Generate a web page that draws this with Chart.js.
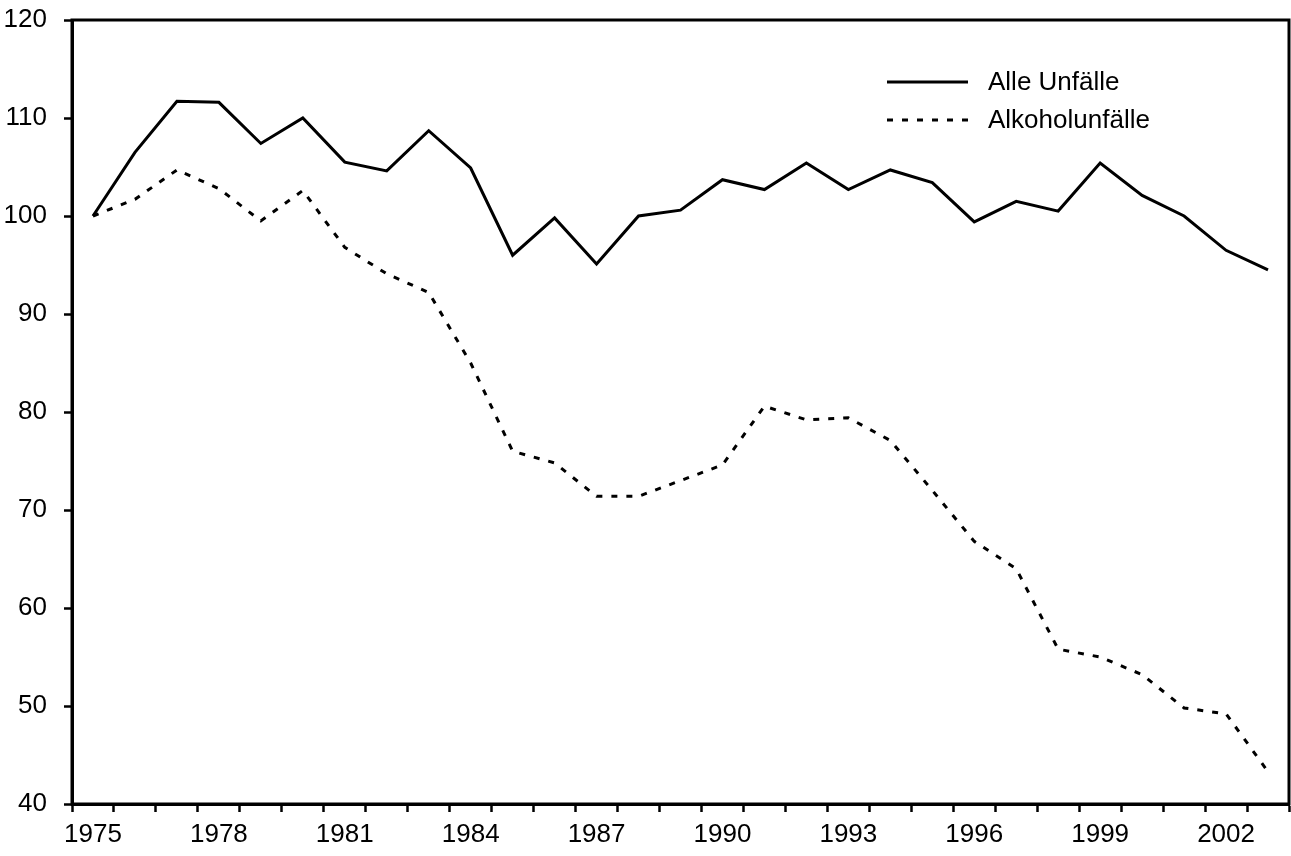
<!DOCTYPE html>
<html>
<head>
<meta charset="utf-8">
<script src="https://cdn.jsdelivr.net/npm/chart.js@4.4.0/dist/chart.umd.min.js"></script>
<style>
  body { margin: 0; background: #fff; }
  #wrap { width: 1291px; height: 856px; }
</style>
</head>
<body>
<div id="wrap"><canvas id="unfaelle_chart" width="1291" height="856"></canvas></div>
<script>
// Index 1975 = 100
var years = ['1975', '1976', '1977', '1978', '1979', '1980', '1981', '1982', '1983', '1984',
             '1985', '1986', '1987', '1988', '1989', '1990', '1991', '1992', '1993', '1994',
             '1995', '1996', '1997', '1998', '1999', '2000', '2001', '2002', '2003'];
var alle_unfaelle = [100, 106.5, 111.7, 111.6, 107.4, 110.0, 105.5, 104.6, 108.7, 104.9,
                     96.0, 99.8, 95.1, 100.0, 100.6, 103.7, 102.7, 105.4, 102.7, 104.7,
                     103.4, 99.4, 101.5, 100.5, 105.4, 102.1, 100.0, 96.5, 94.5];
var alkohol_unfaelle = [100, 101.7, 104.7, 102.8, 99.5, 102.6, 96.8, 94.1, 92.2, 85.0,
                        76.0, 74.8, 71.4, 71.4, 73.0, 74.6, 80.6, 79.2, 79.4, 77.1,
                        72.0, 66.8, 64.0, 55.8, 55.0, 53.2, 49.8, 49.2, 43.3];
var series_names = ['Alle Unfälle', 'Alkoholunfälle'];
var y_min = 40, y_max = 120, y_step = 10;

var FONT = '"Liberation Sans", Arial, sans-serif';
var FONT_SIZE = 26;
var LINE_W = 3;
var DASH = [6, 9];

// frame round the plot + legend inside the plot
var framePlugin = {
    id: 'frame',
    afterDraw: function(chart) {
        var ctx = chart.ctx;
        var a = chart.chartArea;
        ctx.save();
        ctx.strokeStyle = '#000';
        ctx.lineWidth = LINE_W;
        ctx.setLineDash([]);
        ctx.strokeRect(a.left, a.top, a.right - a.left, a.bottom - a.top);

        // legend
        var lx = a.left + 815, ly = a.top + 62, row = 38;
        ctx.font = FONT_SIZE + 'px ' + FONT;
        ctx.fillStyle = '#000';
        ctx.textBaseline = 'middle';
        for (var i = 0; i < series_names.length; i++) {
            var y = ly + i * row;
            ctx.beginPath();
            ctx.setLineDash(i === 0 ? [] : DASH);
            ctx.moveTo(lx, y);
            ctx.lineTo(lx + 81, y);
            ctx.stroke();
            ctx.setLineDash([]);
            ctx.fillText(series_names[i], lx + 101, y + 1);
        }
        ctx.restore();
    }
};

var context = document.getElementById('unfaelle_chart').getContext('2d');
var chart = new Chart(context, {
    type: 'line',
    data: {
        labels: years,
        datasets: [{
            label: series_names[0],
            data: alle_unfaelle,
            borderColor: '#000',
            borderWidth: LINE_W,
            pointRadius: 0,
            tension: 0
        }, {
            label: series_names[1],
            data: alkohol_unfaelle,
            borderColor: '#000',
            borderWidth: LINE_W,
            borderDash: DASH,
            pointRadius: 0,
            tension: 0
        }]
    },
    options: {
        responsive: false,
        animation: false,
        layout: { padding: { top: 20, right: 2, left: 0, bottom: 0 } },
        plugins: {
            legend: { display: false },
            tooltip: { enabled: false }
        },
        scales: {
            x: {
                offset: true,
                afterFit: function(scale) {
                    scale.height = 52;
                    scale.paddingLeft = 0;
                    scale.paddingRight = 0;
                },
                grid: {
                    offset: true,
                    drawOnChartArea: false,
                    drawTicks: true,
                    tickLength: 8,
                    tickColor: '#000',
                    tickWidth: 2.5
                },
                border: { color: '#000', width: LINE_W },
                ticks: {
                    autoSkip: false,
                    maxRotation: 0,
                    padding: 7,
                    color: '#000',
                    font: { family: FONT, size: FONT_SIZE },
                    callback: function(val, i) {
                        return i % 3 === 0 ? this.getLabelForValue(val) : '';
                    }
                }
            },
            y: {
                min: y_min,
                max: y_max,
                afterFit: function(scale) {
                    scale.width = 72;
                    scale.paddingTop = 0;
                    scale.paddingBottom = 0;
                },
                grid: {
                    drawOnChartArea: false,
                    drawTicks: true,
                    tickLength: 8,
                    tickColor: '#000',
                    tickWidth: 2.5
                },
                border: { color: '#000', width: LINE_W },
                ticks: {
                    stepSize: y_step,
                    padding: 17,
                    color: '#000',
                    font: { family: FONT, size: FONT_SIZE }
                }
            }
        }
    },
    plugins: [framePlugin]
});
</script>
</body>
</html>
